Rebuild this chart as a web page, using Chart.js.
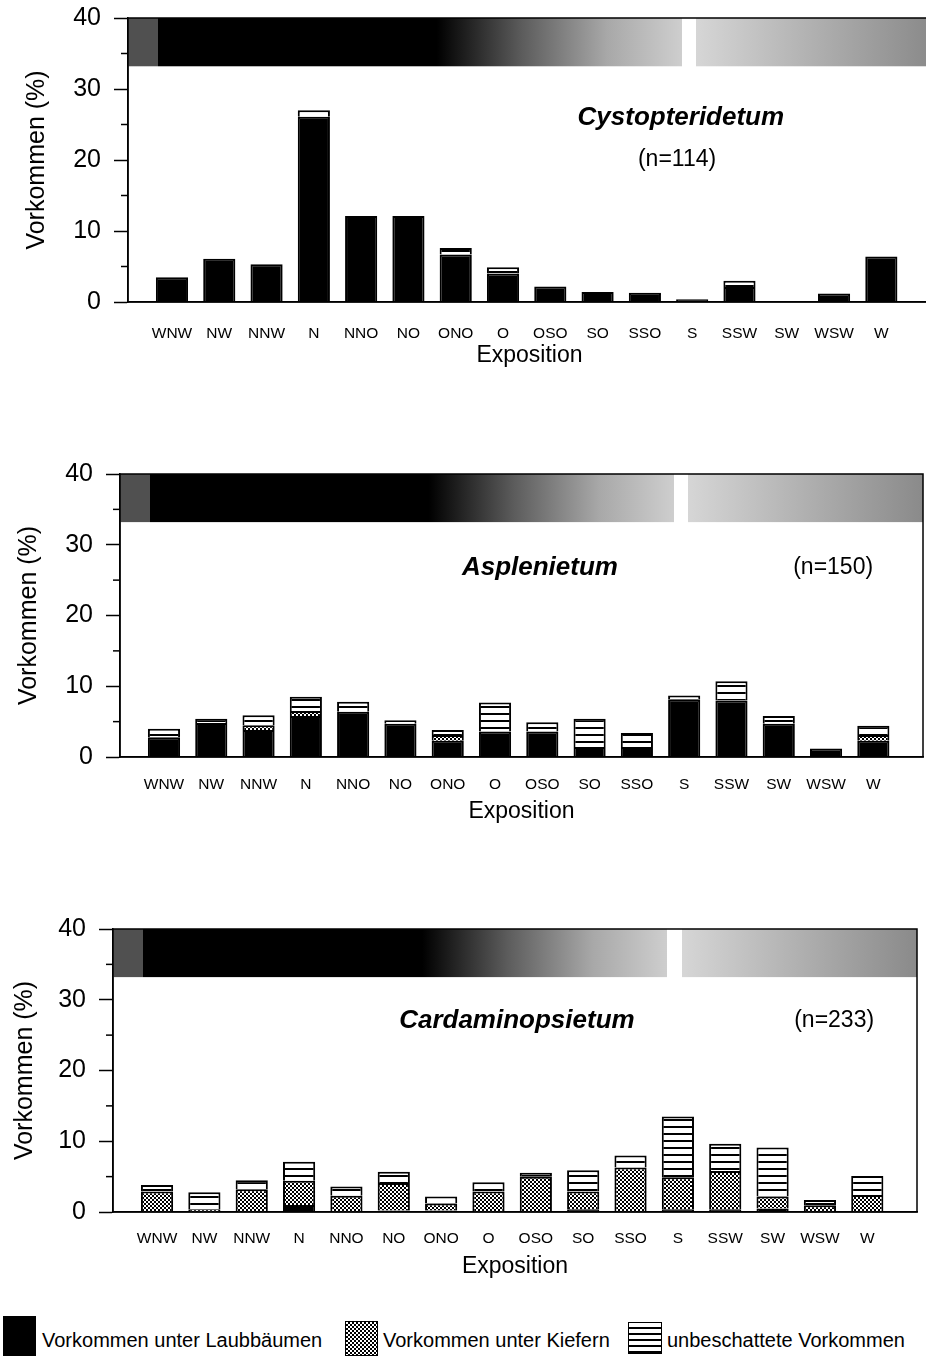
<!DOCTYPE html>
<html>
<head>
<meta charset="utf-8">
<script src="https://cdn.jsdelivr.net/npm/chart.js@4.4.1/dist/chart.umd.min.js"></script>
<style>
  body { margin: 0; width: 926px; height: 1356px; overflow: hidden; background: #fff; font-family: 'Liberation Sans', Arial, sans-serif; }
  .box { position: absolute; left: 0; }
  .sw { position: absolute; box-sizing: border-box; border: 1px solid #000; }
  .lg { position: absolute; font-size: 20px; line-height: 24px; color: #000; white-space: nowrap; }
</style>
</head>
<body>
<div class="box" style="top:0"><canvas id="chart1" width="940" height="380"></canvas></div>
<div class="box" style="top:456px"><canvas id="chart2" width="940" height="380"></canvas></div>
<div class="box" style="top:911px"><canvas id="chart3" width="940" height="380"></canvas></div>

<div class="sw" style="left:3px;top:1316px;width:33px;height:40px;background:#000"></div>
<div class="lg" style="left:42px;top:1328px">Vorkommen unter Laubbäumen</div>
<div class="sw" style="left:345px;top:1321px;width:33px;height:35px;background:repeating-conic-gradient(#000 0 25%, #fff 0 50%) 0 0/4px 4px"></div>
<div class="lg" style="left:383px;top:1328px">Vorkommen unter Kiefern</div>
<div class="sw" style="left:628px;top:1322px;width:34px;height:32px;background:repeating-linear-gradient(#fff 0 4px, #000 4px 6px)"></div>
<div class="lg" style="left:667px;top:1328px">unbeschattete Vorkommen</div>

<script>
const cats = ['WNW', 'NW', 'NNW', 'N', 'NNO', 'NO', 'ONO', 'O', 'OSO', 'SO', 'SSO', 'S', 'SSW', 'SW', 'WSW', 'W']
const yTicks = [0, 10, 20, 30, 40]

// Cystopteridetum (n=114)
const cystLaub   = [3.5, 6.1, 5.3, 26.1, 12.1, 12.1, 6.7, 4.0, 2.2, 1.4, 1.3, 0.4, 2.1, 0, 1.2, 6.4]
const cystKiefer = [0, 0, 0, 0, 0, 0, 0, 0, 0, 0, 0, 0, 0, 0, 0, 0]
const cystOffen  = [0, 0, 0, 0.9, 0, 0, 0.9, 0.9, 0, 0, 0, 0, 0.9, 0, 0, 0]

// Asplenietum (n=150)
const asplLaub   = [2.8, 4.8, 3.8, 5.8, 6.4, 4.7, 2.3, 3.6, 3.6, 1.4, 1.4, 8.1, 8.0, 4.7, 1.2, 2.3]
const asplKiefer = [0, 0, 0.7, 0.7, 0, 0, 0.8, 0, 0, 0, 0, 0, 0, 0, 0, 0.8]
const asplOffen  = [1.2, 0.6, 1.4, 2.0, 1.4, 0.5, 0.7, 4.1, 1.3, 4.0, 2.0, 0.6, 2.7, 1.1, 0, 1.3]

// Cardaminopsietum (n=233)
const cardLaub   = [0, 0, 0, 1.0, 0, 0.2, 0.2, 0, 0, 0.4, 0, 0.4, 0.4, 0.5, 0, 0]
const cardKiefer = [2.9, 0.4, 3.2, 3.4, 2.3, 3.9, 1.0, 2.9, 5.0, 2.5, 6.3, 4.5, 5.4, 1.7, 0.95, 2.4]
const cardOffen  = [0.9, 2.4, 1.3, 2.7, 1.3, 1.6, 1.0, 1.3, 0.55, 3.0, 1.7, 8.6, 3.85, 6.9, 0.75, 2.7]

Chart.defaults.font.family = "'Liberation Sans', Arial, sans-serif"
Chart.defaults.color = '#000'

const makePattern = (w, h, draw) => {
    const c = document.createElement('canvas')
    c.width = w
    c.height = h
    const g = c.getContext('2d')
    g.fillStyle = '#fff'
    g.fillRect(0, 0, w, h)
    g.fillStyle = '#000'
    draw(g)
    return g.createPattern(c, 'repeat')
}
const kiefernFill = makePattern(4, 4, g => { g.fillRect(0, 0, 2, 2); g.fillRect(2, 2, 2, 2) })
const offenFill = makePattern(4, 7, g => { g.fillRect(0, 5, 4, 2) })

const toXY = arr => arr.map((v, i) => ({ x: i, y: v }))

// shading band across the top of each plot
const bandPlugin = {
    id: 'band',
    beforeDatasetsDraw(chart) {
        const { ctx, chartArea: a, scales: { x, y } } = chart
        const f = v => (x.getPixelForValue(v) - a.left) / (a.right - a.left)
        const top = y.getPixelForValue(40)
        const bot = y.getPixelForValue(33.2)
        const g = ctx.createLinearGradient(a.left, 0, a.right, 0)
        g.addColorStop(0, '#505050')
        g.addColorStop(f(-0.3), '#505050')
        g.addColorStop(f(-0.3), '#000')
        g.addColorStop(f(5.6), '#000')
        g.addColorStop(f(7.4), '#5c5c5c')
        g.addColorStop(f(9.2), '#a8a8a8')
        g.addColorStop(f(10.78), '#cecece')
        g.addColorStop(f(10.78), '#fff')
        g.addColorStop(f(11.08), '#fff')
        g.addColorStop(f(11.08), '#d6d6d6')
        g.addColorStop(1, '#8a8a8a')
        ctx.save()
        ctx.fillStyle = g
        ctx.fillRect(a.left, top, a.right - a.left, bot - top)
        ctx.restore()
    }
}

const framePlugin = {
    id: 'frame',
    afterDraw(chart, args, opts) {
        const { ctx, chartArea: a, scales: { x, y } } = chart
        ctx.save()
        ctx.strokeStyle = '#000'
        ctx.lineWidth = 1.5
        ctx.strokeRect(a.left, a.top, a.right - a.left, a.bottom - a.top)
        // minor ticks
        ;[5, 15, 25, 35].forEach(v => {
            const py = y.getPixelForValue(v)
            ctx.beginPath()
            ctx.moveTo(a.left - 7, py)
            ctx.lineTo(a.left, py)
            ctx.stroke()
        })
        ctx.fillStyle = '#000'
        ctx.textAlign = 'center'
        ctx.textBaseline = 'middle'
        ctx.font = "italic bold 26px 'Liberation Sans', Arial, sans-serif"
        ctx.fillText(opts.name, x.getPixelForValue(opts.nameAt[0]), y.getPixelForValue(opts.nameAt[1]))
        ctx.font = "23px 'Liberation Sans', Arial, sans-serif"
        ctx.fillText(opts.n, x.getPixelForValue(opts.nAt[0]), y.getPixelForValue(opts.nAt[1]))
        ctx.restore()
    }
}

const renderChart = (chartName, laub, kiefer, offen, box, texts) => {
    const ctx = document.getElementById(chartName).getContext('2d')
    new Chart(ctx, {
        type: 'bar',
        data: {
            datasets: [
                { label: 'Vorkommen unter Laubbäumen', data: toXY(laub), backgroundColor: '#000' },
                { label: 'Vorkommen unter Kiefern', data: toXY(kiefer), backgroundColor: kiefernFill },
                { label: 'unbeschattete Vorkommen', data: toXY(offen), backgroundColor: offenFill }
            ]
        },
        options: {
            responsive: false,
            animation: false,
            devicePixelRatio: 1,
            layout: { padding: { left: 0, top: 18, right: box.right, bottom: 0 } },
            datasets: {
                bar: { barPercentage: 0.68, categoryPercentage: 1, borderColor: '#000', borderWidth: 2 }
            },
            plugins: {
                legend: { display: false },
                tooltip: { enabled: false },
                frame: texts
            },
            scales: {
                x: {
                    type: 'linear',
                    stacked: true,
                    offset: false,
                    min: -0.93,
                    max: 16.05,
                    afterBuildTicks: s => { s.ticks = cats.map((c, i) => ({ value: i })) },
                    afterFit: s => { s.height = box.xh; s.paddingLeft = 0; s.paddingRight = 0 },
                    grid: { display: false, drawTicks: false },
                    border: { display: true, color: '#000', width: 1.5 },
                    ticks: { callback: v => cats[v], font: { size: 15.5 }, padding: box.xpad, maxRotation: 0, autoSkip: false },
                    title: { display: true, text: 'Exposition', font: { size: 23 }, padding: { top: 0, bottom: 11 } }
                },
                y: {
                    stacked: true,
                    min: 0,
                    max: 40,
                    afterFit: s => { s.width = box.left; s.paddingTop = 0; s.paddingBottom = 0 },
                    grid: {
                        drawOnChartArea: false,
                        tickLength: 14,
                        tickWidth: 1.5,
                        tickColor: c => (c.tick && c.tick.value % 10 === 0) ? '#000' : 'rgba(0,0,0,0)'
                    },
                    border: { display: true, color: '#000', width: 1.5 },
                    ticks: { stepSize: 5, callback: v => yTicks.includes(v) ? v : '', font: { size: 25 }, padding: 13 },
                    title: { display: true, text: 'Vorkommen (%)', font: { size: 25 }, padding: { top: box.tpad, bottom: 0 } }
                }
            }
        },
        plugins: [bandPlugin, framePlugin]
    })
}

renderChart('chart1', cystLaub, cystKiefer, cystOffen,
    { left: 128, right: 9, xh: 78, xpad: 22, tpad: 22 },
    { name: 'Cystopteridetum', nameAt: [10.76, 26.0], n: '(n=114)', nAt: [10.68, 20.0] })
renderChart('chart2', asplLaub, asplKiefer, asplOffen,
    { left: 120, right: 17, xh: 79, xpad: 18, tpad: 14 },
    { name: 'Asplenietum', nameAt: [7.95, 26.7], n: '(n=150)', nAt: [14.15, 26.7] })
renderChart('chart3', cardLaub, cardKiefer, cardOffen,
    { left: 113, right: 23, xh: 79, xpad: 17, tpad: 10 },
    { name: 'Cardaminopsietum', nameAt: [7.6, 27.0], n: '(n=233)', nAt: [14.3, 27.0] })
</script>
</body>
</html>
